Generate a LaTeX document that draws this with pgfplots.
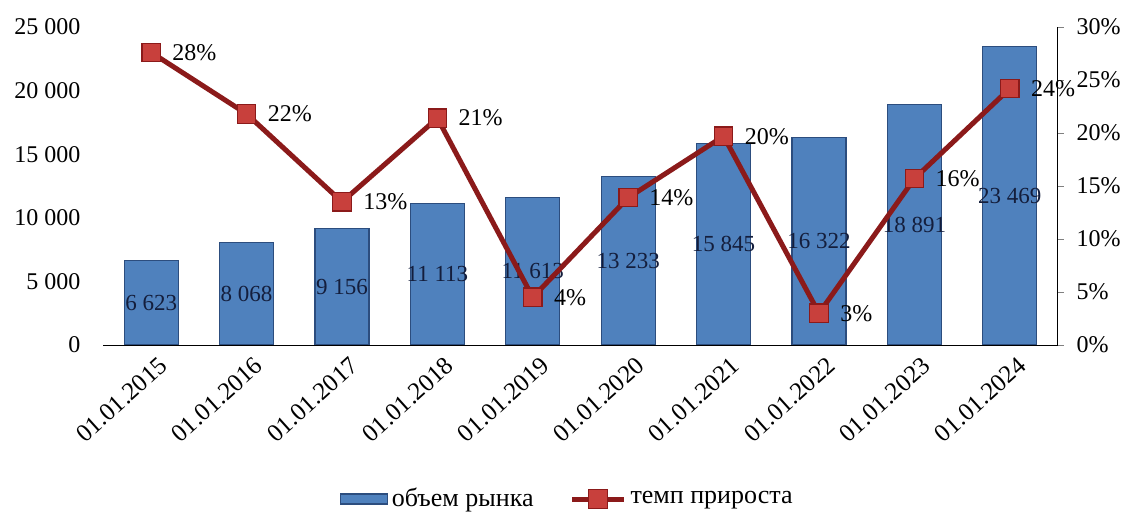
\documentclass[border=0pt]{standalone}
\usepackage{fontspec}
\setmainfont{Liberation Serif}
\usepackage{pgfplots}
\pgfplotsset{compat=1.18}

\definecolor{barblue}{HTML}{4F81BD}
\definecolor{baredge}{HTML}{2C4D7E}
\definecolor{linered}{HTML}{8B1A1A}
\definecolor{markred}{HTML}{C8403C}
\definecolor{lblnavy}{HTML}{141E3C}

\pgfplotsset{
    linelegend/.style={legend image code/.code={
        \draw[mark repeat=2, mark phase=2, ##1]
            plot coordinates {(0pt,0pt) (13pt,0pt) (26pt,0pt)};}},
}

\begin{document}
\begin{tikzpicture}[font=\fontsize{12}{14}\selectfont]
\path[use as bounding box] (-51.75pt,-84pt) rectangle (512.75pt,172.5pt);

% bars: market volume
\begin{axis}[
    scale only axis,
    width=477pt, height=159pt,
    xmin=-0.5, xmax=9.5,
    ymin=0, ymax=25000,
    axis y line*=left,
    axis x line*=bottom,
    axis line style={-},
    y axis line style={draw=none},
    xtick={0,...,9},
    xticklabels={01.01.2015,01.01.2016,01.01.2017,01.01.2018,01.01.2019,
                 01.01.2020,01.01.2021,01.01.2022,01.01.2023,01.01.2024},
    x tick label style={rotate=42, anchor=north east, inner sep=1pt, yshift=-5pt,
        font=\fontsize{12.5}{14}\selectfont},
    ytick={0,5000,10000,15000,20000,25000},
    scaled y ticks=false,
    yticklabel style={xshift=-8pt},
    major tick length=0pt,
    /pgf/number format/assume math mode=true,
    /pgf/number format/1000 sep={\ },
    ybar, bar width=27pt,
    nodes near coords,
    visualization depends on={0.5*rawy \as \halfy},
    nodes near coords style={anchor=center, text=lblnavy,
        font=\fontsize{11.5}{13}\selectfont,
        shift={(axis direction cs:0,-\halfy)}},
]
\addplot[fill=barblue, draw=baredge, line width=0.6pt] coordinates {
(0,6623) (1,8068) (2,9156) (3,11113) (4,11613)
(5,13233) (6,15845) (7,16322) (8,18891) (9,23469)
};
\end{axis}

% line: growth rate
\begin{axis}[
    scale only axis,
    width=477pt, height=159pt,
    xmin=-0.5, xmax=9.5,
    ymin=0, ymax=30,
    axis y line*=right,
    axis x line=none,
    axis line style={-},
    ytick={0,5,10,15,20,25,30},
    yticklabel={\pgfmathprintnumber{\tick}\%},
    /pgf/number format/assume math mode=true,
    tick align=outside,
    major tick length=3pt,
    yticklabel style={xshift=3pt},
    legend style={draw=none, fill=none, at={(0.487,0)}, anchor=center,
        yshift=-77pt, legend columns=2, font=\fontsize{13}{15}\selectfont,
        /tikz/every even column/.append style={column sep=16pt}},
    legend cell align=left,
]
\addlegendimage{legend image code/.code={
    \draw[fill=barblue, draw=baredge, line width=0.6pt] (0pt,-2.5pt) rectangle (23.5pt,2.5pt);}}
\addlegendentry{объем рынка}
\addplot[linered, line width=2.5pt, mark=square*, mark size=4.6pt,
    mark options={fill=markred, draw=linered, line width=0.6pt},
    linelegend,
    nodes near coords, point meta=explicit symbolic,
    nodes near coords style={anchor=west, text=black, xshift=7pt}]
coordinates {
(0,27.6)[28\%] (1,21.8)[22\%] (2,13.5)[13\%] (3,21.4)[21\%] (4,4.5)[4\%]
(5,13.9)[14\%] (6,19.7)[20\%] (7,3.0)[3\%] (8,15.7)[16\%] (9,24.2)[24\%]
};
\addlegendentry{темп прироста}
\end{axis}
\end{tikzpicture}
\end{document}
